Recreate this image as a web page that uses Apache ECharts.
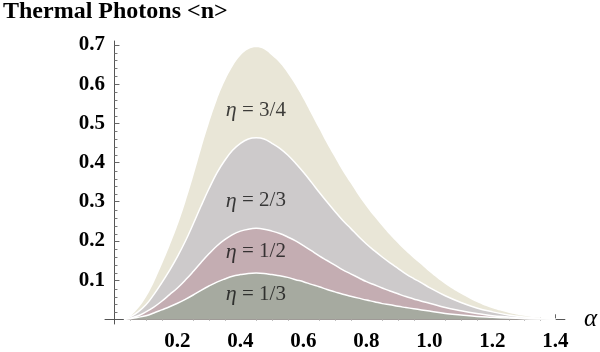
<!DOCTYPE html>
<html>
<head>
<meta charset="utf-8">
<script src="https://cdn.jsdelivr.net/npm/echarts@6/dist/echarts.min.js"></script>
<style>html,body{margin:0;padding:0;background:#fff}#c{width:600px;height:352px}</style>
</head>
<body>
<div id="c"></div>
<script>
// alpha sample positions
const alphaValues = [0.03,0.05,0.075,0.1,0.125,0.15,0.175,0.2,0.225,0.25,0.275,0.3,0.325,0.35,0.375,0.4,0.425,0.45,0.475,0.5,0.525,0.55,0.575,0.6,0.625,0.65,0.675,0.7,0.725,0.75,0.775,0.8,0.825,0.85,0.875,0.9,0.925,0.95,0.975,1.0,1.05,1.1,1.15,1.2,1.25,1.3,1.35,1.4];
// <n> for eta = 3/4
const eta34 = [0,0.008,0.028,0.056,0.094,0.139,0.187,0.239,0.298,0.364,0.434,0.500,0.559,0.607,0.645,0.673,0.689,0.694,0.689,0.673,0.654,0.628,0.597,0.562,0.524,0.486,0.448,0.413,0.378,0.347,0.316,0.288,0.262,0.238,0.215,0.194,0.174,0.156,0.139,0.121,0.090,0.065,0.044,0.028,0.017,0.009,0.004,0.001];
// <n> for eta = 2/3
const eta23 = [0,0.006,0.019,0.037,0.063,0.093,0.125,0.160,0.199,0.243,0.289,0.333,0.373,0.405,0.431,0.449,0.460,0.463,0.460,0.449,0.436,0.419,0.398,0.375,0.350,0.324,0.299,0.275,0.252,0.232,0.211,0.192,0.175,0.159,0.144,0.130,0.116,0.104,0.093,0.081,0.060,0.043,0.029,0.019,0.011,0.006,0.003,0.001];
// <n> for eta = 1/2
const eta12 = [0,0.003,0.009,0.019,0.031,0.046,0.063,0.080,0.100,0.122,0.145,0.167,0.187,0.203,0.216,0.225,0.230,0.232,0.230,0.225,0.219,0.210,0.200,0.188,0.175,0.162,0.150,0.138,0.126,0.116,0.106,0.096,0.088,0.080,0.072,0.065,0.058,0.052,0.046,0.041,0.030,0.022,0.015,0.009,0.006,0.003,0.0014,0.0005];
// <n> for eta = 1/3
const eta13 = [0,0.0014,0.005,0.009,0.016,0.024,0.032,0.041,0.051,0.062,0.074,0.085,0.095,0.103,0.110,0.114,0.117,0.118,0.117,0.114,0.111,0.107,0.101,0.096,0.089,0.083,0.076,0.070,0.064,0.059,0.054,0.049,0.045,0.040,0.037,0.033,0.030,0.027,0.024,0.021,0.015,0.011,0.007,0.005,0.003,0.0015,0.0007,0.0002];

const xTickLabels = [0.2,0.4,0.6,0.8,1.0,1.2,1.4];
const xMinorTicks = [0.05,0.10,0.15,0.25,0.30,0.35,0.45,0.50,0.55,0.65,0.70,0.75,0.85,0.90,0.95,1.05,1.10,1.15,1.25,1.30,1.35];
const yTickLabels = [0.1,0.2,0.3,0.4,0.5,0.6,0.7];
const yMinorTicks = [0.02,0.04,0.06,0.08,0.12,0.14,0.16,0.18,0.22,0.24,0.26,0.28,0.32,0.34,0.36,0.38,0.42,0.44,0.46,0.48,0.52,0.54,0.56,0.58,0.62,0.64,0.66,0.68];

const annoText = ['3/4','2/3','1/2','1/3'];
const annoX = [0.449,0.449,0.449,0.449];
const annoY = [0.534,0.302,0.172,0.064];

const serif = "'Liberation Serif','Times New Roman',serif";
const toPairs = arr => alphaValues.map((a,i)=>[a,arr[i]]);

const grid = {left:105, right:34.4, top:41, bottom:26.8};
const chart = echarts.init(document.getElementById('c'), null, {renderer:'canvas'});

function areaSeries(name, data, fill, edge){
  return {
    name, type:'line', xAxisIndex:0, yAxisIndex:0,
    data: toPairs(data), smooth:0.4, symbol:'none',
    lineStyle: edge ? {color:'#ffffff', width:1.5} : {width:0, color:fill},
    areaStyle:{color:fill, opacity:1},
    silent:true
  };
}

chart.setOption({
  animation:false,
  title:{text:'Thermal Photons <n>', left:3, top:0, padding:0,
    textStyle:{fontFamily:serif, fontWeight:'bold', fontSize:24, color:'#000'}},
  grid:[Object.assign({}, grid), Object.assign({}, grid)],
  xAxis:[
    {type:'value', gridIndex:0, min:-0.03, max:1.43,
     name:'α', nameLocation:'end', nameGap:19,
     nameTextStyle:{fontFamily:serif, fontStyle:'italic', fontSize:25, color:'#000'},
     axisLine:{onZero:true, lineStyle:{color:'#555', width:1}},
     axisTick:{show:true, inside:true, length:5, customValues:xTickLabels, lineStyle:{color:'#666'}},
     axisLabel:{customValues:xTickLabels, formatter:v=>v.toFixed(1), margin:7,
       fontFamily:serif, fontWeight:'bold', fontSize:21, color:'#000'},
     splitLine:{show:false}},
    {type:'value', gridIndex:1, min:-0.03, max:1.43,
     axisLine:{show:false, onZero:true},
     axisTick:{show:true, inside:true, length:3, customValues:xMinorTicks, lineStyle:{color:'#777'}},
     axisLabel:{show:false}, splitLine:{show:false}}
  ],
  yAxis:[
    {type:'value', gridIndex:0, min:-0.012, max:0.71,
     axisLine:{show:true, onZero:true, lineStyle:{color:'#555', width:1}},
     axisTick:{show:true, inside:true, length:5, customValues:yTickLabels, lineStyle:{color:'#666'}},
     axisLabel:{customValues:yTickLabels, formatter:v=>v.toFixed(1), margin:0,
       fontFamily:serif, fontWeight:'bold', fontSize:21, color:'#000'},
     splitLine:{show:false}},
    {type:'value', gridIndex:1, min:-0.012, max:0.71,
     axisLine:{show:false, onZero:true},
     axisTick:{show:true, inside:true, length:3, customValues:yMinorTicks, lineStyle:{color:'#777'}},
     axisLabel:{show:false}, splitLine:{show:false}}
  ],
  series:[
    areaSeries('3/4', eta34, '#e9e6d7', false),
    areaSeries('2/3', eta23, '#cdcacb', true),
    areaSeries('1/2', eta12, '#c4adb2', true),
    areaSeries('1/3', eta13, '#a6aaa0', true),
    {
      type:'scatter', xAxisIndex:0, yAxisIndex:0, symbolSize:0, silent:true, z:10,
      data: annoText.map((t,i)=>({value:[annoX[i], annoY[i]], name:t})),
      label:{show:true, position:'inside',
        formatter:p=>'{i|η} = ' + p.name,
        fontFamily:serif, fontSize:21, color:'#111',
        rich:{i:{fontFamily:serif, fontStyle:'italic', fontSize:22, color:'#111'}}}
    }
  ]
});
</script>
</body>
</html>
